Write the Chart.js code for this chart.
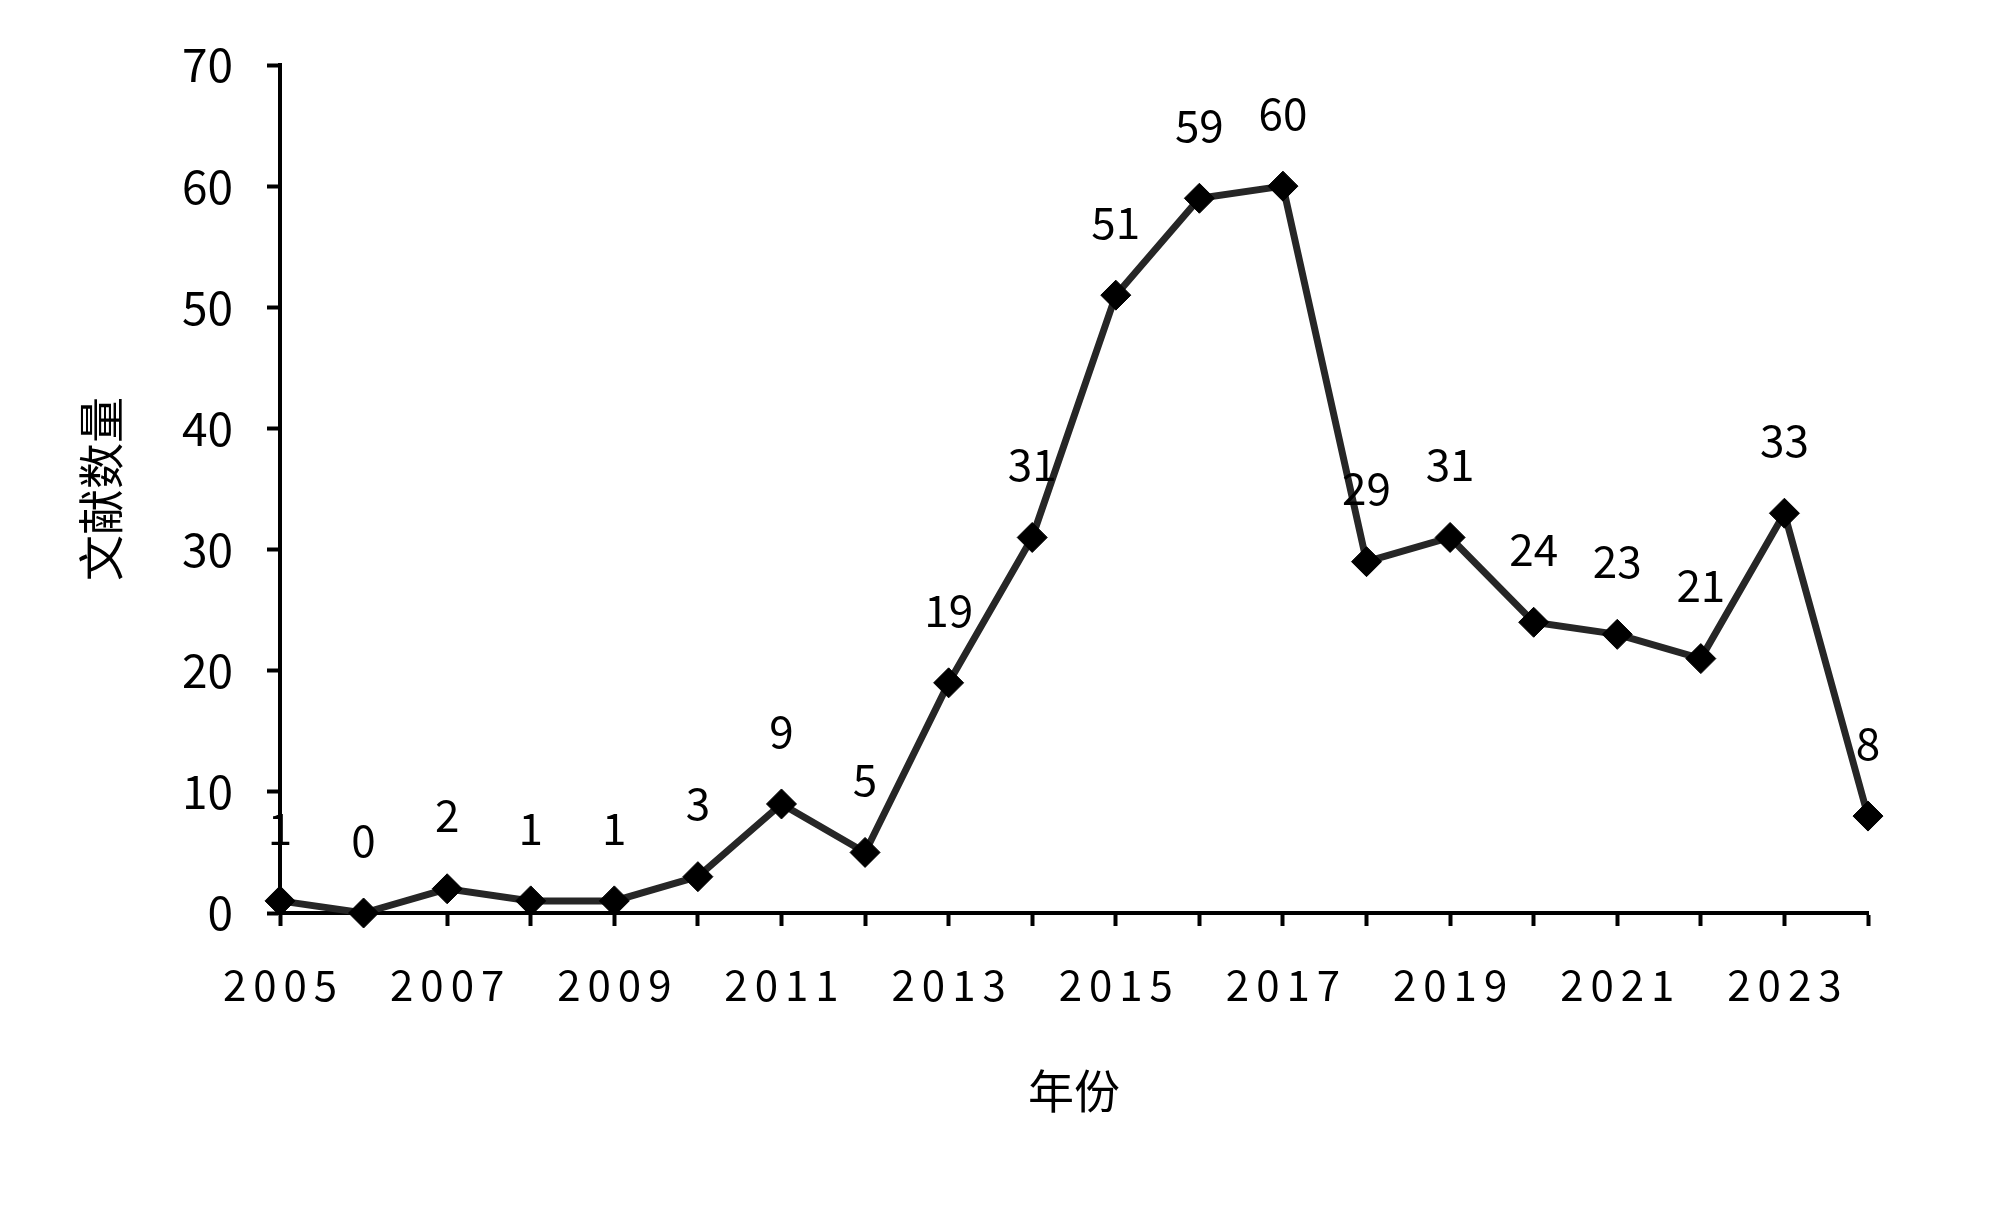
<!DOCTYPE html>
<html>
<head>
<meta charset="utf-8">
<script src="https://cdn.jsdelivr.net/npm/chart.js@4"></script>
<style>
  html, body { margin: 0; padding: 0; background: #fff; }
  #wrap { width: 1999px; height: 1205px; }
</style>
</head>
<body>
<div id="wrap"><canvas id="lineChart" width="1999" height="1205"></canvas></div>
<script>
const years = ['2005', '2006', '2007', '2008', '2009', '2010', '2011', '2012', '2013', '2014',
               '2015', '2016', '2017', '2018', '2019', '2020', '2021', '2022', '2023', '2024'];
const counts = [1, 0, 2, 1, 1, 3, 9, 5, 19, 31, 51, 59, 60, 29, 31, 24, 23, 21, 33, 8];
const yTicks = [0, 10, 20, 30, 40, 50, 60, 70];

const fontName = '"Noto Sans CJK SC", "Noto Sans", sans-serif';

// spaced-out year labels on the x axis only
const spacingPlugin = {
    id: 'spacing',
    afterLayout(chart) {
        const scale = chart.scales.x;
        if (scale._spaced) return;
        const orig = scale.drawLabels;
        scale.drawLabels = function (area) {
            const ctx = this.ctx;
            ctx.save();
            ctx.letterSpacing = '7px';
            ctx.translate(3.5, 0);
            orig.call(this, area);
            ctx.restore();
        };
        scale._spaced = true;
    }
};

// value above each point
const valueLabels = {
    id: 'valueLabels',
    afterDatasetsDraw(chart) {
        const ctx = chart.ctx;
        const meta = chart.getDatasetMeta(0);
        ctx.save();
        ctx.font = '44px ' + fontName;
        ctx.fillStyle = '#000';
        ctx.textAlign = 'center';
        ctx.textBaseline = 'middle';
        meta.data.forEach((pt, i) => {
            ctx.fillText(String(counts[i]), pt.x, pt.y - 73);
        });
        ctx.restore();
    }
};

const chart = new Chart(document.getElementById('lineChart'), {
    type: 'line',
    data: {
        labels: years,
        datasets: [{
            data: counts,
            borderColor: '#262626',
            borderWidth: 7,
            pointStyle: 'rectRot',
            pointRadius: 15,
            pointBackgroundColor: '#000',
            pointBorderColor: '#000',
            pointBorderWidth: 1,
            tension: 0,
            clip: false
        }]
    },
    options: {
        responsive: false,
        animation: false,
        layout: { padding: { top: 65, right: 131, bottom: 87, left: 73 } },
        plugins: {
            legend: { display: false },
            tooltip: { enabled: false }
        },
        scales: {
            x: {
                offset: false,
                border: { display: true, color: '#000', width: 4 },
                grid: {
                    drawOnChartArea: false,
                    drawTicks: true,
                    tickLength: 13,
                    tickWidth: 4,
                    color: '#000'
                },
                ticks: {
                    autoSkip: false,
                    maxRotation: 0,
                    color: '#000',
                    padding: 34,
                    font: { family: fontName, size: 42 },
                    callback: (v, i) => (i % 2 === 0 ? years[i] : '')
                },
                title: {
                    display: true,
                    text: '年份',
                    color: '#000',
                    font: { family: fontName, size: 46 },
                    padding: { top: 0, bottom: 0 }
                },
                afterFit(scale) { scale.height = 205; }
            },
            y: {
                min: 0,
                max: 70,
                border: { display: true, color: '#000', width: 4 },
                grid: {
                    drawOnChartArea: false,
                    drawTicks: true,
                    tickLength: 13,
                    tickWidth: 4,
                    color: '#000'
                },
                afterBuildTicks(scale) {
                    scale.ticks = yTicks.map(v => ({ value: v }));
                },
                ticks: {
                    color: '#000',
                    padding: 34,
                    font: { family: fontName, size: 46 }
                },
                title: {
                    display: true,
                    text: '文献数量',
                    color: '#000',
                    font: { family: fontName, size: 46 },
                    padding: { top: 0, bottom: 0 }
                },
                afterFit(scale) { scale.width = 207; }
            }
        }
    },
    plugins: [spacingPlugin, valueLabels]
});
</script>
</body>
</html>
